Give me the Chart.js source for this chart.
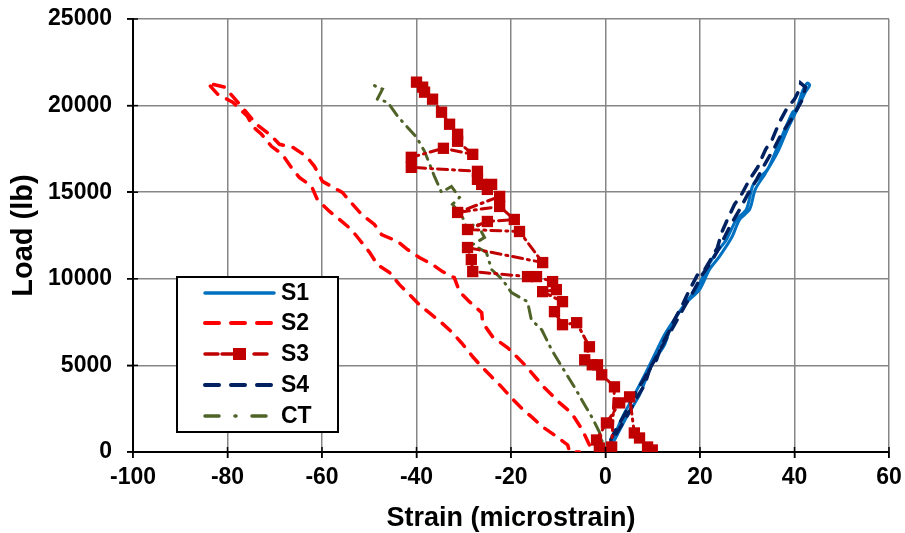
<!DOCTYPE html>
<html>
<head>
<meta charset="utf-8">
<script src="https://cdn.jsdelivr.net/npm/chart.js@4.4.0/dist/chart.umd.min.js"></script>
<style>
  body { margin: 0; background: #fff; }
  #wrap { width: 905px; height: 533px; }
</style>
</head>
<body>
<div id="wrap"><canvas id="myChart" width="905" height="533"></canvas></div>
<script>
// strain readings (microstrain) and load (lb) for each gauge
const s1Strain = [0, 1.3, 3.0, 4.7, 7.2, 8.9, 10.4, 12.5, 14.0, 16.7, 19.9, 22.0, 24.1, 26.7, 28.4, 30.5, 31.7, 33.7, 36.4, 38.5, 40.6, 42.3, 43.2,
  42.7, 41.7, 40.4, 39.6, 36.8, 34.3, 32.2, 31.1, 29.8, 27.7, 25.6, 23.5, 21.6, 19.3, 17.8, 15.7, 12.5, 10.4, 8.3, 6.1, 3.6, 1.9, 0.4];
const s1Load = [0, 405, 1273, 2141, 3299, 4456, 5324, 6192, 7350, 8507, 9375, 10532, 11285, 12384, 13426, 14005, 15162, 16030, 17303, 18634, 19792, 20776, 21180,
  21296, 20833, 19792, 19618, 17882, 16319, 15741, 15336, 14005, 13426, 12269, 11516, 10706, 9375, 8912, 8102, 6771, 5613, 4456, 3299, 2025, 984, 231];

const s2Strain = [-3.4, -4.9, -7.2, -9.7, -12.9, -17.1, -20.7, -23.9, -26.0, -26.2, -28.8, -30.9, -32.0, -34.5, -36.6, -39.4, -41.9, -44.0, -47.4, -48.9,
  -51.6, -53.5, -55.7, -59.9, -61.6, -63.3, -66.2, -69.0, -71.1, -73.9, -77.5, -80.6, -84.2,
  -82.1, -78.9, -75.8, -74.7, -72.8, -70.7, -68.4, -66.5, -64.8, -62.2, -61.0, -58.4, -56.3, -53.8, -52.1, -49.9, -48.3, -45.7, -43.6,
  -41.5, -39.4, -36.8, -34.7, -32.4, -30.5, -28.1, -26.2, -24.1, -22.0, -19.9, -17.8, -15.4, -13.3, -10.2, -8.0, -7.6, -5.5];
const s2Load = [405, 1273, 2257, 2836, 3704, 5035, 6018, 6655, 7465, 8044, 8680, 9259, 10069, 10417, 10822, 11227, 11690, 12153, 12558, 13137,
  13715, 14294, 14988, 15625, 16493, 17072, 17592, 17766, 18345, 18924, 20100, 21065, 21296,
  20660, 20197, 19387, 18808, 18345, 17650, 17187, 16435, 15856, 15336, 14583, 13889, 13426, 12847, 12269, 11516, 10822, 10359, 9664,
  9086, 8507, 7928, 7465, 6887, 6308, 5498, 4919, 4340, 3762, 3125, 2546, 1968, 1447, 868, 405, 0, 0];

const s3Strain = [9.9, 8.9, 7.2, 6.1, 5.1, 3.0, 0.2, -1.9, -1.3, 1.3, 1.9, -0.8, -2.8, -1.7, -4.4, -3.4, -6.1, -9.1, -10.8, -9.1,
  -13.3, -10.4, -11.2, -14.6, -16.5, -28.1, -28.4, -29.2, -13.3, -18.2, -29.2, -25.0, -19.3, -22.4, -31.3, -22.4, -25.0, -24.1, -26.2,
  -27.1, -27.1, -41.1, -41.1, -34.3, -28.1, -31.3, -31.3, -33.0, -34.7, -36.6, -38.3, -38.7, -40.0];
const s3Load = [116, 289, 810, 1100, 3183, 2836, 1678, 694, 231, 289, 3762, 4456, 5035, 5035, 5324, 6076, 7465, 7350, 8102, 8680,
  9259, 9375, 9838, 10127, 10127, 10417, 11111, 11806, 10937, 12731, 12847, 13310, 13426, 14178, 13831, 14757, 15162, 15451, 15451,
  15741, 16204, 16435, 17014, 17535, 17187, 17940, 18345, 18924, 19618, 20370, 20776, 21065, 21354];

const s4Strain = [0, 0.8, 2.5, 4.7, 6.6, 8.3, 9.3, 10.8, 11.9, 13.1, 14.6, 16.3, 17.8, 19.5, 21.0, 22.0, 23.7, 24.6, 25.8, 27.3, 28.8, 30.5, 32.2,
  33.9, 35.3, 36.8, 38.3, 40.0, 41.1, 41.3,
  42.3, 41.7, 39.6, 37.2, 35.8, 33.7, 32.0, 30.1, 28.4, 26.2, 24.1, 22.4, 20.5, 18.8, 16.7, 14.6, 12.5, 10.4, 8.3, 6.1, 4.0, 1.9, 0.4];
const s4Load = [0, 289, 1157, 2141, 3125, 3877, 4745, 5324, 6192, 6771, 7639, 8507, 9375, 10243, 10532, 10995, 11806, 12673, 13426, 14294, 14873, 15741, 16435,
  17477, 18055, 19039, 19792, 20370, 20949, 21296,
  21065, 20370, 19329, 18345, 17592, 16608, 15741, 14873, 14005, 12963, 11806, 10995, 10243, 9375, 8391, 7350, 6366, 5324, 4282, 3299, 2141, 1157, 289];

const ctStrain = [1.9, -0.2, -1.3, -2.8, -4.4, -6.6, -9.1, -11.4, -13.5, -15.7, -16.5, -19.9, -21.8, -24.1, -25.2, -28.1, -25.6, -27.3, -29.2,
  -30.5, -32.4, -30.9, -32.6, -34.7, -36.2, -38.3, -40.0, -44.0, -46.1, -48.3, -47.2, -48.3, -49.5];
const ctLoad = [0, 116, 1157, 1968, 2720, 3762, 4861, 5903, 7060, 7639, 8680, 9201, 9954, 10532, 11516, 11979, 12384, 13252, 12847,
  13715, 14294, 14699, 15336, 14988, 15914, 17361, 18171, 19386, 20197, 20370, 20949, 21065, 21238];

const seriesNames = ['S1', 'S2', 'S3', 'S4', 'CT'];
const xTicks = [-100, -80, -60, -40, -20, 0, 20, 40, 60];
const yTicks = [0, 5000, 10000, 15000, 20000, 25000];

const pts = (xs, ys) => xs.map((x, i) => ({ x: x, y: ys[i] }));

const FONT = "'Liberation Sans', Arial, sans-serif";

// legend drawn inside plot like the excel one
const boxLegend = {
  id: 'boxLegend',
  afterDraw(chart) {
    const ctx = chart.ctx;
    ctx.save();
    ctx.fillStyle = '#fff';
    ctx.fillRect(177, 277, 161, 155);
    ctx.strokeStyle = '#000';
    ctx.lineWidth = 2;
    ctx.strokeRect(177, 277, 161, 155);
    const rows = [293, 323, 354, 385, 416];
    chart.data.datasets.forEach((ds, i) => {
      const y = rows[i];
      ctx.strokeStyle = ds.borderColor;
      ctx.lineWidth = ds.borderWidth + 0.5;
      ctx.lineCap = 'round';
      ctx.setLineDash(ds.legendDash || []);
      ctx.beginPath();
      ctx.moveTo(205, y);
      ctx.lineTo(274, y);
      ctx.stroke();
      ctx.setLineDash([]);
      if (ds.pointRadius > 0) {
        ctx.fillStyle = ds.borderColor;
        ctx.fillRect(233, y - 6, 13, 12);
      }
      ctx.fillStyle = '#000';
      ctx.font = 'bold 23px ' + FONT;
      ctx.textBaseline = 'middle';
      ctx.textAlign = 'left';
      ctx.fillText(seriesNames[i], 281, y + 1);
    });
    ctx.restore();
  }
};

// black cross tick marks on both axes
const crossTicks = {
  id: 'crossTicks',
  afterDraw(chart) {
    const ctx = chart.ctx;
    const xs = chart.scales.x, ys = chart.scales.y;
    ctx.save();
    ctx.strokeStyle = '#000';
    ctx.lineWidth = 1.5;
    xTicks.forEach(v => {
      const px = xs.getPixelForValue(v);
      ctx.beginPath(); ctx.moveTo(px, ys.bottom - 5); ctx.lineTo(px, ys.bottom + 6); ctx.stroke();
    });
    yTicks.forEach(v => {
      const py = ys.getPixelForValue(v);
      ctx.beginPath(); ctx.moveTo(xs.left - 6, py); ctx.lineTo(xs.left + 5, py); ctx.stroke();
    });
    ctx.restore();
  }
};

const ctx = document.getElementById('myChart');
new Chart(ctx, {
  type: 'scatter',
  data: {
    datasets: [
      { label: 'S1', order: 3, data: pts(s1Strain, s1Load), showLine: true, borderColor: '#0070C0', borderWidth: 3, pointRadius: 0, tension: 0.3 },
      { label: 'S2', order: 2, data: pts(s2Strain, s2Load), showLine: true, borderColor: '#FF0000', borderWidth: 3.5, borderDash: [11, 10], legendDash: [14, 12], pointRadius: 0, borderCapStyle: 'round' },
      { label: 'S3', order: 0, data: pts(s3Strain, s3Load), showLine: true, borderColor: '#C00000', backgroundColor: '#C00000', borderWidth: 3, borderDash: [10, 5, 2, 5], legendDash: [13, 4, 12, 20, 13, 7, 2, 10], pointStyle: 'rect', pointRadius: 8, pointBorderWidth: 0, borderCapStyle: 'round' },
      { label: 'S4', order: 1, data: pts(s4Strain, s4Load), showLine: true, borderColor: '#002060', borderWidth: 3.5, borderDash: [11, 10], legendDash: [14, 12], pointRadius: 0, borderCapStyle: 'round' },
      { label: 'CT', order: 2, data: pts(ctStrain, ctLoad), showLine: true, borderColor: '#4F6228', borderWidth: 3, borderDash: [12, 7, 1, 7], legendDash: [14, 16, 1, 16], pointRadius: 0, borderCapStyle: 'round' }
    ]
  },
  options: {
    responsive: false,
    animation: false,
    layout: { padding: { top: 19, right: 16, left: 0, bottom: 0 } },
    plugins: { legend: { display: false }, tooltip: { enabled: false } },
    scales: {
      x: {
        type: 'linear', min: -100, max: 60,
        afterFit: s => { s.height = 81; s.paddingLeft = 0; s.paddingRight = 0; },
        afterBuildTicks: s => { s.ticks = xTicks.map(v => ({ value: v })); },
        ticks: { color: '#000', padding: 6, callback: v => String(v), font: { family: FONT, size: 23, weight: 'bold' } },
        grid: { color: '#868686', lineWidth: 1.5, tickLength: 6, tickColor: '#000' },
        border: { color: '#000', width: 2 },
        title: { display: true, text: 'Strain (microstrain)', color: '#000', padding: { top: 0, bottom: -2 }, font: { family: FONT, size: 27, weight: 'bold' } }
      },
      y: {
        type: 'linear', min: 0, max: 25000,
        afterFit: s => { s.width = 133; s.paddingTop = 0; s.paddingBottom = 0; },
        afterBuildTicks: s => { s.ticks = yTicks.map(v => ({ value: v })); },
        ticks: { color: '#000', padding: 15, callback: v => String(v), font: { family: FONT, size: 23, weight: 'bold' } },
        grid: { color: '#868686', lineWidth: 1.5, tickLength: 6, tickColor: '#000' },
        border: { color: '#000', width: 2 },
        title: { display: true, text: 'Load (lb)', color: '#000', padding: { top: 7, bottom: 0 }, font: { family: FONT, size: 29, weight: 'bold' } }
      }
    }
  },
  plugins: [boxLegend, crossTicks]
});
</script>
</body>
</html>
